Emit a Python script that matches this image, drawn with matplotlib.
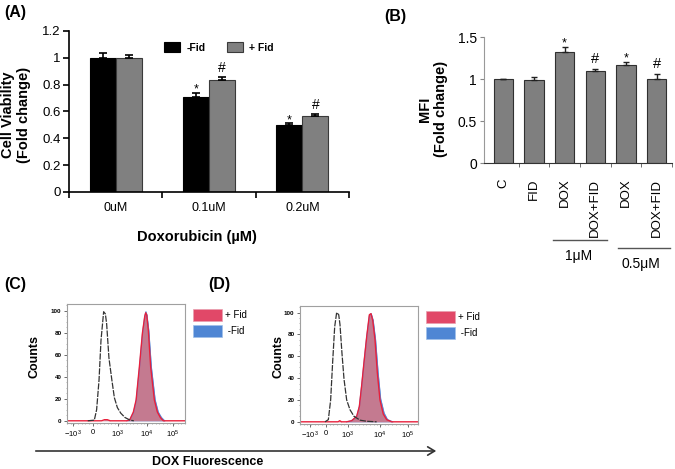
import matplotlib
matplotlib.use('Agg')
import matplotlib.pyplot as plt
from matplotlib.patches import Patch, FancyArrowPatch
from matplotlib.ticker import FixedLocator, MultipleLocator
from matplotlib.transforms import blended_transform_factory
import numpy as np

plt.rcParams['font.family'] = ['Liberation Sans', 'DejaVu Sans']
plt.rcParams['mathtext.default'] = 'regular'

# ---- panel A: cell viability ----
a_groups = ['0uM', '0.1uM', '0.2uM']
a_nofid = [1.0, 0.708, 0.497]
a_nofid_err = [0.036, 0.030, 0.016]
a_fid = [1.0, 0.837, 0.569]
a_fid_err = [0.019, 0.020, 0.012]
a_sig_nofid = ['', '*', '*']
a_sig_fid = ['', '#', '#']

# ---- panel B: MFI ----
b_labels = ['C', 'FID', 'DOX', 'DOX+FID', 'DOX', 'DOX+FID']
b_vals = [1.0, 0.985, 1.317, 1.099, 1.170, 1.003]
b_err = [0.0, 0.038, 0.062, 0.024, 0.028, 0.060]
b_sig = ['', '', '*', '#', '*', '#']
b_dose = ['1\u03bcM', '0.5\u03bcM']

# ---- panels C/D: histograms (display channels 0-1024, % of max) ----
hist_ticklabels = ['$-10^3$', '0', '$10^3$', '$10^4$', '$10^5$']
c_ticks = [52, 226, 443, 694, 920]
d_ticks = [87, 226, 417, 694, 937]

c_ctrl_ch = [180, 237, 257, 278, 295, 318, 333, 344, 364, 388, 411, 437, 466, 503, 547, 580]
c_ctrl_ct = [0, 0.6, 10, 37, 73, 99, 97, 88, 57, 38, 21, 12, 7, 3, 0.6, 0]
c_fid_ch = [0, 300, 325, 350, 375, 520, 545, 576, 600, 628, 655, 675, 683, 692, 706, 726, 758, 784, 810, 836, 1024]
c_fid_ct = [0, 0, 1, 1, 0, 0, 1, 8, 19, 49, 80, 95, 98, 96, 82, 49, 19, 8, 3, 0, 0]
c_nofid_ch = [520, 545, 576, 600, 628, 655, 675, 685, 694, 710, 732, 765, 792, 820, 848]
c_nofid_ct = [0, 1, 7, 18, 47, 79, 95, 99, 96, 82, 49, 19, 8, 3, 0]

d_ctrl_ch = [217, 246, 266, 283, 301, 318, 336, 347, 364, 382, 405, 434, 469, 521, 579, 665]
d_ctrl_ct = [0, 2, 20, 54, 87, 100, 98, 89, 63, 39, 20, 11, 5, 1.5, 0.5, 0]
d_fid_ch = [0, 330, 345, 360, 405, 448, 492, 515, 535, 555, 579, 602, 616, 631, 651, 671, 694, 723, 752, 796, 1024]
d_fid_ct = [0, 0, 1, 0, 0, 1, 5, 14, 33, 54, 78, 98, 99, 93, 75, 45, 20, 7, 2, 0, 0]
d_nofid_ch = [405, 448, 492, 515, 535, 555, 579, 602, 618, 635, 656, 678, 700, 730, 760, 805]
d_nofid_ct = [0, 1, 5, 14, 33, 54, 78, 97, 99, 93, 75, 45, 21, 8, 2, 0]

W, H = 675, 469
fig = plt.figure(figsize=(W / 100, H / 100), dpi=100)


def box(l, t, r, b):
    return [l / W, 1 - b / H, (r - l) / W, (b - t) / H]


def ftext(x, y, s, **kw):
    fig.text(x / W, 1 - y / H, s, **kw)


# ================= (A) =================
ax = fig.add_axes(box(69, 31, 349, 192))
x = np.arange(len(a_groups))
bw = 0.28
b1 = ax.bar(x - bw / 2, a_nofid, bw, color='black', edgecolor='black', lw=0.8, label='-Fid')
b2 = ax.bar(x + bw / 2, a_fid, bw, color='#808080', edgecolor='#3a3a3a', lw=0.8, label='+ Fid')
ax.errorbar(x - bw / 2, a_nofid, yerr=[np.zeros(3), a_nofid_err], fmt='none',
            ecolor='black', elinewidth=1.2, capsize=3, capthick=1.2)
ax.errorbar(x + bw / 2, a_fid, yerr=[np.zeros(3), a_fid_err], fmt='none',
            ecolor='black', elinewidth=1.2, capsize=3, capthick=1.2)
for i in range(3):
    if a_sig_nofid[i]:
        ax.annotate(a_sig_nofid[i], (x[i] - bw / 2, a_nofid[i] + a_nofid_err[i]),
                    xytext=(0, -2), textcoords='offset points', ha='center', va='bottom', fontsize=9)
    if a_sig_fid[i]:
        ax.annotate(a_sig_fid[i], (x[i] + bw / 2, a_fid[i] + a_fid_err[i]),
                    xytext=(0, 1.5), textcoords='offset points', ha='center', va='bottom', fontsize=10)
ax.set_xlim(-0.5, 2.5)
ax.set_ylim(0, 1.2)
ax.set_yticks([0, 0.2, 0.4, 0.6, 0.8, 1.0, 1.2])
ax.set_yticklabels(['0', '0.2', '0.4', '0.6', '0.8', '1', '1.2'], fontsize=9.5)
ax.set_xticks(x)
ax.set_xticklabels(a_groups, fontsize=9)
ax.tick_params(axis='x', length=0, pad=7)
ax.xaxis.set_minor_locator(FixedLocator([-0.5, 0.5, 1.5, 2.5]))
ax.tick_params(axis='x', which='minor', length=4, width=1.2, direction='out')
ax.tick_params(axis='y', length=4, width=1.2, direction='out', pad=2)
for s in ['top', 'right']:
    ax.spines[s].set_visible(False)
for s in ['left', 'bottom']:
    ax.spines[s].set_linewidth(1.2)
ax.legend(handles=[b1, b2], ncol=2, frameon=False, loc='center left',
          bbox_to_anchor=(0.34, 0.897), borderpad=0, borderaxespad=0,
          handlelength=1.55, handleheight=1.05, handletextpad=0.6, columnspacing=2.0,
          prop={'weight': 'bold', 'size': 7.5})
ftext(16, 115, 'Cell Viability\n(Fold change)', rotation=90, ha='center', va='center',
      fontsize=10.5, fontweight='bold', multialignment='center')
ftext(197, 237, 'Doxorubicin (\u00b5M)', ha='center', va='center', fontsize=10.5, fontweight='bold')
ftext(4, 12, '(A)', ha='left', va='center', fontsize=11.5, fontweight='bold')

# ================= (B) =================
axb = fig.add_axes(box(484, 37, 672, 163.3))
xb = np.arange(len(b_labels))
axb.bar(xb, b_vals, 0.635, color='#7f7f7f', edgecolor='#303030', lw=0.8)
axb.errorbar(xb, b_vals, yerr=[np.zeros(len(xb)), b_err], fmt='none',
             ecolor='#202020', elinewidth=1, capsize=2.5, capthick=1)
for i, s in enumerate(b_sig):
    if s:
        off = -1.5 if s == '*' else 2
        axb.annotate(s, (xb[i], b_vals[i] + b_err[i]), xytext=(0, off), textcoords='offset points',
                     ha='center', va='bottom', fontsize=9 if s == '*' else 10.5)
axb.set_xlim(-0.63, 5.5)
axb.set_ylim(0, 1.5)
axb.set_yticks([0, 0.5, 1.0, 1.5])
axb.set_yticklabels(['0', '0.5', '1', '1.5'], fontsize=10)
axb.set_xticks(xb)
axb.set_xticklabels(b_labels, rotation=90, fontsize=9.5, va='top')
axb.tick_params(axis='x', length=0, pad=11)
axb.xaxis.set_minor_locator(FixedLocator([0.5, 1.5, 2.5, 3.5, 4.5, 5.5]))
axb.tick_params(axis='x', which='minor', length=3, color='#555555', direction='out')
axb.tick_params(axis='y', length=3, color='#888888', direction='out', pad=2)
for s in ['top', 'right']:
    axb.spines[s].set_visible(False)
axb.spines['left'].set_color('#999999')
axb.spines['bottom'].set_color('#333333')
trb = blended_transform_factory(axb.transData, axb.transAxes)
axb.plot([1.61, 3.37], [-0.607, -0.607], transform=trb, clip_on=False, color='#555555', lw=1)
axb.plot([3.73, 5.42], [-0.671, -0.671], transform=trb, clip_on=False, color='#555555', lw=1)
axb.text(2.45, -0.735, b_dose[0], transform=trb, ha='center', va='center', fontsize=10)
axb.text(4.5, -0.80, b_dose[1], transform=trb, ha='center', va='center', fontsize=10)
ftext(433, 109, 'MFI\n(Fold change)', rotation=90, ha='center', va='center',
      fontsize=10.5, fontweight='bold', multialignment='center')
ftext(384, 17, '(B)', ha='left', va='center', fontsize=11.5, fontweight='bold')


# ================= (C) / (D) =================
def histo(rect, ticks, ctrl, fid, nofid):
    axh = fig.add_axes(rect)
    axh.fill_between(nofid[0], nofid[1], color='#5a8ad8', lw=0)
    axh.fill_between(fid[0], fid[1], color='#c47a90', lw=0)
    axh.plot(nofid[0], nofid[1], color='#5a8ad8', lw=0.8)
    axh.plot(fid[0], fid[1], color='#e8203c', lw=1.0)
    axh.plot(ctrl[0], ctrl[1], color='#333333', lw=0.9, ls=(0, (5, 1)))
    axh.set_xlim(0, 1024)
    axh.set_ylim(-2, 106)
    axh.set_yticks([0, 20, 40, 60, 80, 100])
    axh.set_yticklabels(['0', '20', '40', '60', '80', '100'], fontsize=4.5, fontweight='bold')
    axh.yaxis.set_minor_locator(MultipleLocator(5))
    axh.set_xticks(ticks)
    axh.set_xticklabels(hist_ticklabels, fontsize=5.5)
    axh.xaxis.set_minor_locator(MultipleLocator(32))
    axh.tick_params(which='major', length=2, width=0.6, color='#555555', pad=2)
    axh.tick_params(which='minor', length=1, width=0.4, color='#777777')
    for s in axh.spines.values():
        s.set_color('#a0a0a0')
        s.set_linewidth(0.8)
    hs = [Patch(facecolor='#e14868', edgecolor='#e8a0b0', lw=0.5),
          Patch(facecolor='#4f86d4', edgecolor='#a0c0ea', lw=0.5)]
    axh.legend(hs, ['+ Fid', ' -Fid'], loc='upper left', bbox_to_anchor=(1.068, 0.958),
               frameon=False, borderpad=0, borderaxespad=0, handlelength=3.0,
               handleheight=1.45, handletextpad=0.3, labelspacing=0.5, fontsize=7)
    return axh


histo(box(67, 304, 185, 423), c_ticks, (c_ctrl_ch, c_ctrl_ct), (c_fid_ch, c_fid_ct),
      (c_nofid_ch, c_nofid_ct))
histo(box(300, 306, 418, 424), d_ticks, (d_ctrl_ch, d_ctrl_ct), (d_fid_ch, d_fid_ct),
      (d_nofid_ch, d_nofid_ct))
ftext(35, 356, 'Counts', rotation=90, ha='center', va='center', fontsize=9, fontweight='bold')
ftext(278, 356, 'Counts', rotation=90, ha='center', va='center', fontsize=9, fontweight='bold')
ftext(4, 285, '(C)', ha='left', va='center', fontsize=11.5, fontweight='bold')
ftext(208, 285, '(D)', ha='left', va='center', fontsize=11.5, fontweight='bold')

arrow = FancyArrowPatch((33 / W, 1 - 451 / H), (439 / W, 1 - 451 / H), transform=fig.transFigure,
                        arrowstyle='->,head_length=5,head_width=3', color='#333333', lw=1.2,
                        mutation_scale=1)
fig.add_artist(arrow)
ftext(208, 462, 'DOX Fluorescence', ha='center', va='center', fontsize=9, fontweight='bold')

fig.savefig('out.png', dpi=100)
